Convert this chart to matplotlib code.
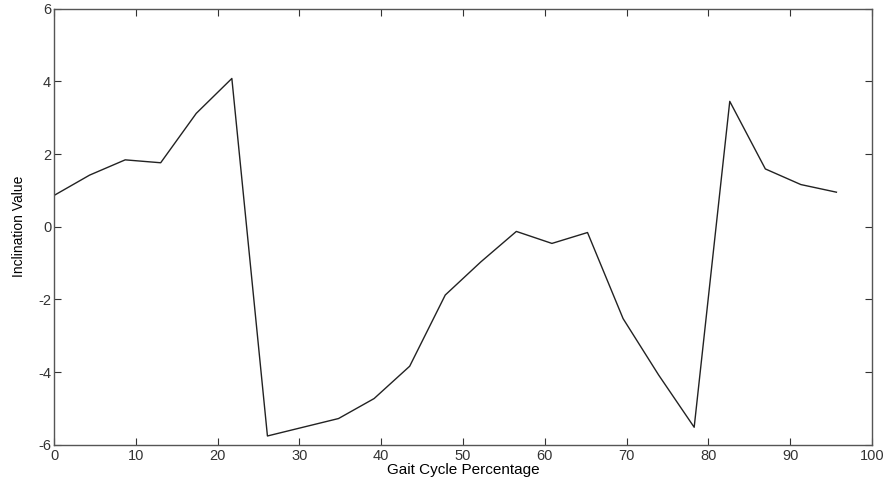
import matplotlib
matplotlib.use("Agg")
import matplotlib.pyplot as plt

# Inclination over one gait cycle
gait_pct = [0.0, 4.35, 8.7, 13.04, 17.39, 21.74, 26.09, 30.43, 34.78, 39.13,
            43.48, 47.83, 52.17, 56.52, 60.87, 65.22, 69.57, 73.91, 78.26,
            82.61, 86.96, 91.3, 95.65]
inclination = [0.86, 1.42, 1.84, 1.76, 3.12, 4.08, -5.76, -5.52, -5.28, -4.73,
               -3.84, -1.88, -0.97, -0.13, -0.46, -0.16, -2.53, -4.08, -5.52,
               3.45, 1.59, 1.16, 0.95]
x_ticks = [0, 10, 20, 30, 40, 50, 60, 70, 80, 90, 100]
y_ticks = [-6, -4, -2, 0, 2, 4, 6]

plt.rcParams['font.family'] = ['Liberation Sans', 'DejaVu Sans']
plt.rcParams['axes.unicode_minus'] = False

fig = plt.figure(figsize=(8.87, 4.84), dpi=100)
ax = fig.add_axes([0.0609, 0.0812, 0.9222, 0.9008])
ax.plot(gait_pct, inclination, color='#222222', linewidth=1.0)

ax.set_xlim(0, 100)
ax.set_ylim(-6, 6)
ax.set_xticks(x_ticks)
ax.set_yticks(y_ticks)
ax.tick_params(direction='in', top=True, right=True, length=5, width=0.8,
               labelsize=10.5, pad=2, colors='#333333')
ax.tick_params(axis='x', pad=3)
for s in ax.spines.values():
    s.set_linewidth(1.0)
    s.set_color('#555555')

ax.set_xlabel('Gait Cycle Percentage', fontsize=11, labelpad=0)
ax.set_ylabel('Inclination Value', fontsize=10, labelpad=9)

fig.savefig('out.png', dpi=100, facecolor='white')
